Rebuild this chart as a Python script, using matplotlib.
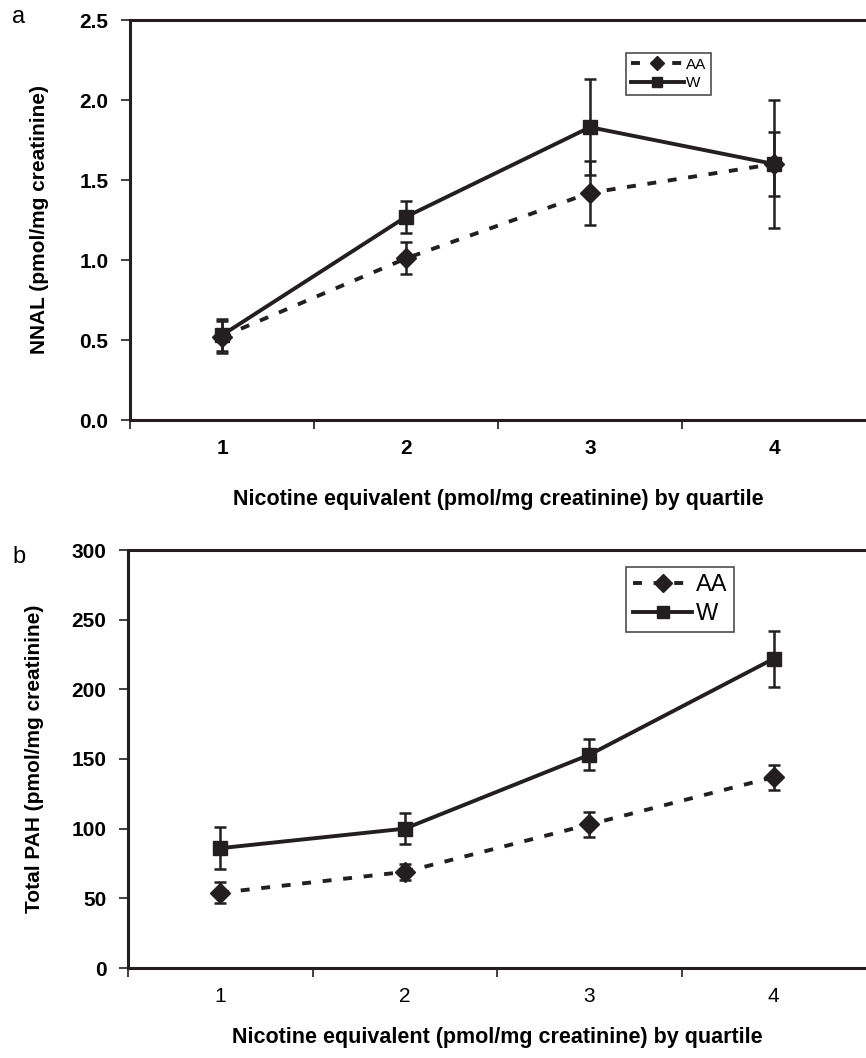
import matplotlib
matplotlib.use("Agg")
import matplotlib.pyplot as plt
from matplotlib.lines import Line2D

quartiles = [1, 2, 3, 4]
tick_labels = ["1", "2", "3", "4"]

nnal_aa = [0.52, 1.01, 1.42, 1.60]
nnal_aa_err = [0.10, 0.10, 0.20, 0.20]
nnal_w = [0.53, 1.27, 1.83, 1.60]
nnal_w_err = [0.10, 0.10, 0.30, 0.40]

pah_aa = [54, 69, 103, 137]
pah_aa_err = [7.5, 6, 9, 9]
pah_w = [86, 100, 153, 222]
pah_w_err = [15, 11, 11, 20]

plt.rcParams['font.family'] = ['Liberation Sans', 'DejaVu Sans']
W, H = 866, 1058
fig = plt.figure(figsize=(W / 100, H / 100), dpi=100)

ink = '#231f20'
DASH = (0, (2.3, 3.0))


def panel(rect, aa, aa_err, w, w_err, ylim, yticks, ylabel, yfmt, xbold, leg_fs, leg_ms,
          leg_hl, leg_loc, letter, letter_xy, ylabelpad, xlabelpad):
    ax = fig.add_axes(rect)
    ax.errorbar(quartiles, aa, yerr=aa_err, color=ink, lw=2.8, ls=DASH,
                marker='D', ms=10, capsize=4.5, capthick=1.8, elinewidth=1.8)
    ax.errorbar(quartiles, w, yerr=w_err, color=ink, lw=2.8, ls='-',
                marker='s', ms=10, capsize=4.5, capthick=1.8, elinewidth=1.8)
    ax.set_xlim(0.5, 4.5)
    ax.set_ylim(*ylim)
    ax.set_yticks(yticks)
    ax.set_yticklabels([yfmt.format(v) for v in yticks], fontsize=15, fontweight='bold')
    ax.set_xticks(quartiles)
    ax.set_xticklabels(tick_labels, fontsize=15, fontweight='bold' if xbold else 'normal')
    ax.set_xticks([0.5, 1.5, 2.5, 3.5], minor=True)
    ax.tick_params(axis='x', which='major', length=0, pad=14)
    ax.tick_params(axis='x', which='minor', length=6.5, width=1.2, direction='out', color=ink)
    ax.tick_params(axis='y', length=6.5, width=1.2, direction='out', color=ink, pad=9)
    for s in ['left', 'bottom', 'top']:
        ax.spines[s].set_linewidth(2.2)
        ax.spines[s].set_color(ink)
    ax.spines['right'].set_visible(False)
    ax.set_ylabel(ylabel, fontsize=15, fontweight='bold', labelpad=ylabelpad)
    ax.set_xlabel('Nicotine equivalent (pmol/mg creatinine) by quartile', fontsize=15.5,
                  fontweight='bold', labelpad=xlabelpad)
    handles = [
        Line2D([], [], color=ink, lw=2.8, ls=DASH, marker='D', ms=leg_ms),
        Line2D([], [], color=ink, lw=2.8, ls='-', marker='s', ms=leg_ms),
    ]
    leg = ax.legend(handles, ['AA', 'W'], loc='upper left', bbox_to_anchor=leg_loc,
                    fontsize=leg_fs, frameon=True, fancybox=False, edgecolor=ink,
                    handlelength=leg_hl, handletextpad=0.15, borderpad=0.3, labelspacing=0.3,
                    borderaxespad=0, numpoints=1)
    leg.get_frame().set_linewidth(1.2)
    fig.text(letter_xy[0], letter_xy[1], letter, fontsize=17, ha='left', va='center')
    return ax


panel([130 / W, 1 - 420 / H, 736 / W, 400 / H], nnal_aa, nnal_aa_err, nnal_w, nnal_w_err,
      (0, 2.5), [0.0, 0.5, 1.0, 1.5, 2.0, 2.5], 'NNAL (pmol/mg creatinine)', '{:.1f}', True,
      11, 7, 3.5, ((626 - 130) / 736, (420 - 53) / 400), 'a', (12 / W, 1 - 17 / H), 22, 22)

panel([128 / W, 1 - 968 / H, 738 / W, 418 / H], pah_aa, pah_aa_err, pah_w, pah_w_err,
      (0, 300), [0, 50, 100, 150, 200, 250, 300], 'Total PAH (pmol/mg creatinine)', '{:d}', False,
      17, 9, 2.5, ((626 - 128) / 738, (968 - 567) / 418), 'b', (12 / W, 1 - 557 / H), 20, 15)

fig.savefig('out.png', dpi=100)
